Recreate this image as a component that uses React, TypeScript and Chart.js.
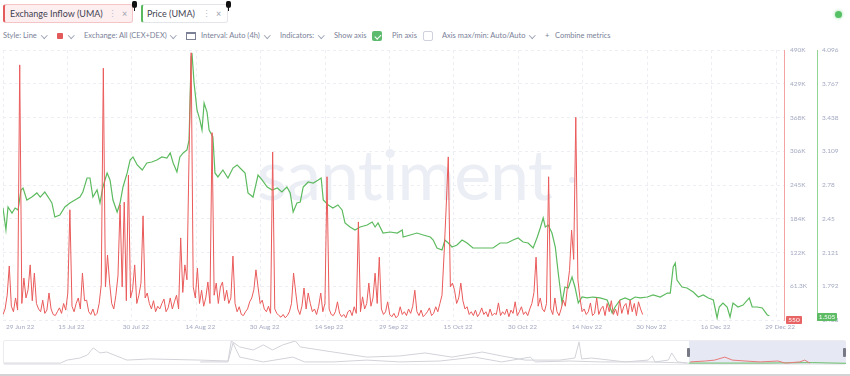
import React, { useEffect, useRef } from "react";
import { Chart, registerables } from "chart.js";
Chart.register(...registerables);

// ---------- DATA ----------
const xTickLabels = ["29 Jun 22", "15 Jul 22", "30 Jul 22", "14 Aug 22", "30 Aug 22", "14 Sep 22", "29 Sep 22", "15 Oct 22", "30 Oct 22", "14 Nov 22", "30 Nov 22", "16 Dec 22", "29 Dec 22"];
const X_TICK_STEP = 15.41; // days between date labels
const X_MAX = 186.8; // visible range in days
const INFLOW_STEP = 0.5; // days between inflow samples

// Exchange inflow (thousands of UMA), one sample every half day from 29 Jun
const inflowK = [
  10, 20, 45, 98, 25, 15, 40, 18, 463, 30,
  76, 40, 55, 100, 35, 85, 30, 20, 15, 36,
  12, 18, 49, 20, 10, 8, 15, 22, 12, 30,
  18, 49, 200, 25, 15, 30, 40, 20, 85, 35,
  36, 15, 10, 20, 8, 12, 30, 64, 457, 60,
  118, 67, 30, 20, 45, 80, 209, 60, 214, 35,
  263, 40, 55, 100, 30, 45, 67, 189, 40, 49,
  30, 20, 35, 15, 25, 20, 30, 38, 15, 22,
  40, 20, 33, 45, 20, 149, 50, 100, 73, 300,
  485, 60, 40, 94, 30, 54, 25, 40, 69, 30,
  340, 45, 67, 30, 60, 69, 35, 54, 30, 40,
  116, 30, 15, 24, 10, 8, 15, 20, 33, 40,
  55, 91, 60, 30, 36, 20, 15, 25, 12, 305,
  20, 12, 8, 5, 10, 4, 8, 15, 30, 85,
  51, 20, 10, 25, 58, 20, 49, 30, 15, 20,
  10, 25, 49, 15, 30, 260, 20, 10, 8, 15,
  33, 12, 6, 10, 4, 15, 18, 8, 24, 12,
  178, 15, 42, 20, 30, 67, 25, 40, 85, 30,
  114, 20, 10, 15, 33, 10, 6, 12, 4, 8,
  24, 10, 15, 8, 20, 12, 25, 54, 15, 8,
  18, 6, 10, 15, 22, 8, 12, 24, 15, 30,
  45, 120, 205, 296, 60, 67, 54, 30, 40, 67,
  35, 20, 24, 10, 15, 8, 18, 6, 12, 22,
  10, 15, 6, 20, 8, 12, 10, 31, 8, 15,
  10, 20, 6, 18, 12, 33, 8, 15, 24, 10,
  15, 8, 20, 30, 50, 114, 25, 40, 20, 15,
  30, 260, 20, 10, 40, 15, 8, 20, 36, 25,
  60, 90, 163, 110, 368, 73, 40, 15, 20, 10,
  15, 31, 8, 12, 40, 10, 20, 25, 8, 30,
  15, 35, 10, 20, 8, 36, 12, 25, 30, 10,
  36, 15, 30, 8, 33, 20, 10,
];

// Price (USD): day offset from 29 Jun and value
const priceDay = [
  0, 0.7, 1.2, 2.15, 2.9, 3.6, 4.3, 4.8, 5.7, 6.9, 8.1, 8.9, 10.0, 10.8, 11.7, 12.4, 13.6, 14.8, 16.0, 17.2,
  18.4, 19.1, 20.1, 20.8, 21.5, 22.5, 23.2, 23.9, 24.9, 25.6, 26.3, 27.3, 28.0, 28.7, 29.7, 30.4, 31.1, 32.1, 33.3, 34.4,
  35.6, 36.8, 38.0, 39.2, 40.0, 40.7, 41.6, 42.3, 43.1, 44.0, 44.5, 45.0, 45.2, 45.7, 46.4, 47.1, 47.6, 48.1, 48.8, 49.3,
  50.2, 50.7, 51.4, 52.6, 53.8, 55.0, 56.0, 56.7, 57.9, 58.6, 59.8, 61.0, 62.0, 63.2, 64.4, 65.6, 66.7, 67.9, 68.7, 69.4,
  70.3, 71.1, 71.8, 73.0, 74.2, 75.4, 76.1, 76.6, 77.8, 78.9, 80.1, 81.1, 81.8, 83.0, 84.2, 85.4, 87.1, 88.3, 89.0, 89.7,
  90.9, 92.6, 94.3, 95.5, 95.7, 97.4, 99.0, 100.5, 102.2, 102.9, 103.8, 105.0, 105.7, 106.5, 107.4, 108.6, 109.8, 111.0, 112.4, 114.1,
  115.8, 117.2, 118.9, 120.6, 122.0, 123.2, 124.4, 125.6, 126.8, 127.8, 128.5, 129.2, 129.7, 130.4, 131.3, 132.1, 132.8, 133.7, 134.4, 135.2,
  136.1, 136.8, 137.6, 138.5, 139.7, 141.1, 142.8, 144.5, 145.7, 146.4, 147.6, 148.8, 150.0, 151.2, 152.4, 154.1, 155.5, 157.2, 158.9, 159.6,
  160.3, 160.8, 161.2, 162.4, 163.6, 165.1, 166.3, 167.5, 168.7, 169.9, 170.8, 171.3, 172.2, 173.2, 173.9, 174.6, 175.8, 177.0, 178.5, 179.2,
  180.4, 181.6, 182.8, 183.3,
];
const price = [
  2.555, 2.341, 2.565, 2.506, 2.555, 2.536, 2.731, 2.750, 2.633, 2.662, 2.702, 2.662, 2.711, 2.662, 2.604, 2.467, 2.487, 2.565, 2.604, 2.633,
  2.662, 2.711, 2.848, 2.848, 2.662, 2.731, 2.604, 2.760, 2.897, 2.828, 2.633, 2.516, 2.604, 2.760, 2.897, 3.023, 3.053, 2.975, 2.926, 2.994,
  3.004, 3.023, 3.053, 3.043, 3.092, 2.994, 2.906, 3.053, 3.092, 3.121, 3.218, 4.028, 4.067, 3.774, 3.511, 3.413, 3.316, 3.579, 3.491, 3.316,
  3.248, 2.897, 2.858, 2.926, 2.848, 2.945, 2.975, 2.945, 2.897, 2.702, 2.662, 2.877, 2.828, 2.760, 2.731, 2.750, 2.711, 2.760, 2.702, 2.516,
  2.604, 2.614, 2.760, 2.809, 2.799, 2.828, 2.848, 2.633, 2.585, 2.555, 2.585, 2.536, 2.409, 2.370, 2.341, 2.370, 2.389, 2.419, 2.370, 2.409,
  2.311, 2.321, 2.311, 2.341, 2.272, 2.292, 2.311, 2.292, 2.272, 2.243, 2.165, 2.146, 2.243, 2.214, 2.175, 2.194, 2.243, 2.214, 2.165, 2.165,
  2.165, 2.165, 2.214, 2.214, 2.243, 2.263, 2.224, 2.214, 2.165, 2.272, 2.360, 2.458, 2.370, 2.389, 2.311, 2.175, 1.921, 1.629, 1.785, 1.775,
  1.882, 1.785, 1.629, 1.687, 1.678, 1.687, 1.678, 1.658, 1.531, 1.590, 1.658, 1.678, 1.658, 1.687, 1.678, 1.687, 1.707, 1.687, 1.726, 1.726,
  1.980, 2.019, 1.853, 1.785, 1.775, 1.736, 1.687, 1.707, 1.678, 1.658, 1.483, 1.590, 1.629, 1.590, 1.492, 1.629, 1.590, 1.609, 1.678, 1.590,
  1.590, 1.580, 1.512, 1.505,
];

const INFLOW_MAX = 490000;
const inflowTickLabels = ["", "61.3K", "122K", "184K", "245K", "306K", "368K", "429K", "490K"];
const PRICE_MIN = 1.463;
const PRICE_MAX = 4.096;
const priceTickLabels = ["1.463", "1.792", "2.121", "2.45", "2.78", "3.109", "3.438", "3.767", "4.096"];
const lastInflowLabel = "550";
const lastPriceLabel = "1.505";

// Navigator (overview of longer history), time 0-100, normalized height 0-100
const navPriceT = [0, 6.7, 7.5, 9.0, 9.9, 10.6, 11.4, 12.2, 14.6, 17.3, 23.3, 26.6, 27.0, 28.0, 29.6, 30.8, 31.9, 33.1, 34.6, 35.2, 39.1, 43.1, 47.0, 50.0, 53.2, 56.8, 59.1, 61.9, 66.0, 67.8, 68.3, 68.6, 69.8, 73.8, 76.5, 77.0, 77.3, 78.9, 79.3, 80.0, 81.2];
const navPriceV = [4, 4, 17, 26, 39, 70, 48, 52, 17, 22, 17, 13, 100, 74, 61, 83, 61, 83, 100, 74, 52, 30, 35, 48, 30, 52, 35, 17, 17, 26, 96, 22, 26, 9, 17, 35, 9, 17, 48, 9, 4];
const navInflowT = [23.3, 26.6, 27.2, 28.0, 30.8, 34.3, 35.7, 39.1, 43.1, 47.0, 51.8, 55.9, 57.1, 59.1, 62.5, 63.1, 67.2, 70.8, 76.7, 81.2];
const navInflowV = [9, 9, 91, 30, 9, 30, 9, 9, 17, 9, 13, 30, 22, 9, 30, 9, 13, 9, 9, 4];
const navSelInflowT = [81.5, 83.3, 84.4, 85.6, 86.5, 88.0, 89.8, 91.9, 92.8, 94.5, 95.1, 95.7];
const navSelInflowV = [9, 13, 17, 30, 17, 13, 9, 13, 4, 9, 17, 4];
const navSelPriceT = [81.3, 90.0, 96.0, 100];
const navSelPriceV = [4, 4, 6, 3];

// ---------- STYLE ----------
const RED = "#ea5a5a";
const GREEN = "#5dbb5f";
const AXIS_TEXT = "#a4a9c1";
const FONT = "Lato, 'Noto Sans', sans-serif";

const xLabelPlugin = {
  id: "xLabels",
  afterDraw(chart: any) {
    const { ctx, chartArea } = chart;
    const x = chart.scales.x;
    ctx.save();
    ctx.font = `6.5px ${FONT}`;
    ctx.fillStyle = AXIS_TEXT;
    ctx.textBaseline = "middle";
    xTickLabels.forEach((lab, k) => {
      const px = x.getPixelForValue(k * X_TICK_STEP);
      ctx.textAlign = k === 0 ? "left" : "center";
      ctx.fillText(lab, k === 0 ? px + 3 : px + 4, chartArea.bottom + 7);
    });
    ctx.restore();
  },
};

const Chevron = ({ left }: { left: number }) => (
  <div style={{ position: "absolute", left, top: 33, width: 3.5, height: 3.5, borderRight: "1px solid #a0a6b8", borderBottom: "1px solid #a0a6b8", transform: "rotate(45deg)" }} />
);

const ToolText = ({ left, children, color }: any) => (
  <div style={{ position: "absolute", left, top: 31, fontSize: 7.5, lineHeight: "10px", color: color || "#7a8198", whiteSpace: "nowrap" }}>{children}</div>
);

const Pin = ({ left }: { left: number }) => (
  <div style={{ position: "absolute", left, top: 1 }}>
    <div style={{ width: 5, height: 7, background: "#111", borderRadius: "2px 2px 3px 3px" }} />
    <div style={{ width: 1, height: 3, background: "#111", marginLeft: 2 }} />
  </div>
);

export default function App() {
  const mainRef = useRef<HTMLCanvasElement>(null);
  const navRef = useRef<HTMLCanvasElement>(null);

  useEffect(() => {
    const inflowData = inflowK.map((v, i) => ({ x: i * INFLOW_STEP, y: v * 1000 }));
    const priceData = priceDay.map((d, i) => ({ x: d, y: price[i] }));

    const main = new Chart(mainRef.current!, {
      type: "line",
      data: {
        datasets: [
          { data: inflowData, borderColor: RED, borderWidth: 1, pointRadius: 0, yAxisID: "y", tension: 0 },
          { data: priceData, borderColor: GREEN, borderWidth: 1.2, pointRadius: 0, yAxisID: "y1", tension: 0 },
        ],
      },
      options: {
        animation: false,
        responsive: false,
        events: [],
        layout: { padding: { left: 3, top: 50, right: 0, bottom: 56 } },
        plugins: { legend: { display: false }, tooltip: { enabled: false } },
        scales: {
          x: {
            type: "linear",
            min: 0,
            max: X_MAX,
            afterBuildTicks: (s: any) => {
              s.ticks = xTickLabels.map((_, k) => ({ value: k * X_TICK_STEP }));
            },
            afterFit: (s: any) => { s.height = 0; },
            ticks: { display: false },
            grid: { color: "#eceef3", drawTicks: false },
            border: { display: false, dash: [3, 3] },
          },
          y: {
            position: "right",
            weight: 0,
            min: 0,
            max: INFLOW_MAX,
            afterBuildTicks: (s: any) => {
              s.ticks = inflowTickLabels.map((_, i) => ({ value: (i * INFLOW_MAX) / (inflowTickLabels.length - 1) }));
            },
            afterFit: (s: any) => { s.width = 33; },
            ticks: {
              padding: 6,
              color: AXIS_TEXT,
              font: { size: 6.5, family: FONT },
              callback: (_v: any, i: number) => inflowTickLabels[i],
            },
            grid: { color: "#eceef3", drawTicks: false },
            border: { display: true, color: "#f3a3a3", width: 1, dash: [3, 3] },
          },
          y1: {
            position: "right",
            weight: 1,
            min: PRICE_MIN,
            max: PRICE_MAX,
            afterBuildTicks: (s: any) => {
              s.ticks = priceTickLabels.map((_, i) => ({ value: PRICE_MIN + (i * (PRICE_MAX - PRICE_MIN)) / (priceTickLabels.length - 1) }));
            },
            afterFit: (s: any) => { s.width = 33; },
            ticks: {
              padding: 5,
              color: AXIS_TEXT,
              font: { size: 6.5, family: FONT },
              callback: (_v: any, i: number) => priceTickLabels[i],
            },
            grid: { display: true, drawOnChartArea: false, drawTicks: false },
            border: { display: true, color: "#94d494", width: 1 },
          },
        },
      },
      plugins: [xLabelPlugin],
    } as any);

    const pts = (t: number[], v: number[]) => t.map((x, i) => ({ x, y: v[i] }));
    const nav = new Chart(navRef.current!, {
      type: "line",
      data: {
        datasets: [
          { data: pts(navSelInflowT, navSelInflowV), borderColor: "#e77a7a", borderWidth: 1, pointRadius: 0 },
          { data: pts(navSelPriceT, navSelPriceV), borderColor: "#69c069", borderWidth: 1, pointRadius: 0 },
          { data: pts(navPriceT, navPriceV), borderColor: "#d2d3d9", borderWidth: 1, pointRadius: 0 },
          { data: pts(navInflowT, navInflowV), borderColor: "#d2d3d9", borderWidth: 1, pointRadius: 0 },
        ],
      },
      options: {
        animation: false,
        responsive: false,
        events: [],
        layout: { padding: 0 },
        plugins: { legend: { display: false }, tooltip: { enabled: false } },
        scales: {
          x: { type: "linear", min: 0, max: 100, display: false },
          y: { min: 0, max: 100, display: false },
        },
      },
    } as any);

    return () => {
      main.destroy();
      nav.destroy();
    };
  }, []);

  return (
    <div style={{ position: "fixed", left: 0, top: 0, width: 850, height: 376, background: "#fff", overflow: "hidden", fontFamily: FONT }}>
      {/* header tabs */}
      <div style={{ position: "absolute", left: 3, top: 4, width: 130, height: 19, background: "#fdeff0", border: "1px solid #f4c4c6", borderLeft: "2px solid #e35b5b", borderRadius: 3, boxSizing: "border-box" }} />
      <div style={{ position: "absolute", left: 10, top: 8, fontSize: 9, lineHeight: "12px", color: "#3f4250", whiteSpace: "nowrap" }}>Exchange Inflow (UMA)</div>
      <div style={{ position: "absolute", left: 108, top: 8, fontSize: 9, lineHeight: "12px", color: "#b8bcc8" }}>⋮</div>
      <div style={{ position: "absolute", left: 122, top: 8, fontSize: 9, lineHeight: "12px", color: "#9a9ead" }}>×</div>
      <Pin left={132} />
      <div style={{ position: "absolute", left: 141, top: 4, width: 87, height: 19, background: "#fff", border: "1px solid #e4e5ea", borderLeft: "2px solid #58b95c", borderRadius: 3, boxSizing: "border-box" }} />
      <div style={{ position: "absolute", left: 147, top: 8, fontSize: 9, lineHeight: "12px", color: "#3f4250", whiteSpace: "nowrap" }}>Price (UMA)</div>
      <div style={{ position: "absolute", left: 202, top: 8, fontSize: 9, lineHeight: "12px", color: "#b8bcc8" }}>⋮</div>
      <div style={{ position: "absolute", left: 216, top: 8, fontSize: 9, lineHeight: "12px", color: "#9a9ead" }}>×</div>
      <Pin left={226} />
      <div style={{ position: "absolute", left: 835, top: 11, width: 7, height: 7, borderRadius: "50%", background: "#55c064", boxShadow: "0 0 3px 1px #c8ecce" }} />

      {/* toolbar */}
      <ToolText left={3}>Style: Line</ToolText>
      <Chevron left={42} />
      <div style={{ position: "absolute", left: 57, top: 33, width: 6, height: 6, background: "#e25a5a", borderRadius: 1 }} />
      <Chevron left={69} />
      <ToolText left={84}>Exchange: All (CEX+DEX)</ToolText>
      <Chevron left={171} />
      <div style={{ position: "absolute", left: 186, top: 32, width: 10, height: 8, border: "1px solid #7c8196", borderTopWidth: 2, boxSizing: "border-box" }} />
      <ToolText left={201}>Interval: Auto (4h)</ToolText>
      <Chevron left={265} />
      <ToolText left={280}>Indicators:</ToolText>
      <Chevron left={319} />
      <ToolText left={334}>Show axis</ToolText>
      <div style={{ position: "absolute", left: 372, top: 31, width: 10, height: 10, background: "#5dbb70", borderRadius: 2 }}>
        <div style={{ position: "absolute", left: 3.5, top: 1.5, width: 2.5, height: 5, borderRight: "1.2px solid #fff", borderBottom: "1.2px solid #fff", transform: "rotate(45deg)" }} />
      </div>
      <ToolText left={392}>Pin axis</ToolText>
      <div style={{ position: "absolute", left: 423, top: 31, width: 10, height: 10, border: "1px solid #cfd2dc", borderRadius: 2, boxSizing: "border-box" }} />
      <ToolText left={442}>Axis max/min: Auto/Auto</ToolText>
      <Chevron left={530} />
      <ToolText left={545}>+</ToolText>
      <ToolText left={555}>Combine metrics</ToolText>

      {/* watermark */}
      <div style={{ position: "absolute", left: 257, top: 138, fontSize: 70, lineHeight: "70px", color: "#eceef5", whiteSpace: "nowrap", letterSpacing: -1 }}>santiment</div>
      <div style={{ position: "absolute", left: 569, top: 177, width: 6, height: 6, borderRadius: "50%", background: "#eceef5" }} />

      {/* main chart */}
      <canvas ref={mainRef} width={850} height={376} style={{ position: "absolute", left: 0, top: 0, width: 850, height: 376 }} />

      {/* last value badges */}
      <div style={{ position: "absolute", left: 786, top: 316, width: 16, height: 8, background: "#e86464", color: "#fff", fontSize: 6.5, lineHeight: "8px", textAlign: "center", borderRadius: 1 }}>{lastInflowLabel}</div>
      <div style={{ position: "absolute", left: 817, top: 313, width: 20, height: 8, background: "#5dbb63", color: "#fff", fontSize: 6.5, lineHeight: "8px", textAlign: "center", borderRadius: 1 }}>{lastPriceLabel}</div>

      {/* navigator */}
      <div style={{ position: "absolute", left: 3, top: 340, width: 843, height: 25, border: "1px solid #ececf0", borderRadius: 2, boxSizing: "border-box" }} />
      <div style={{ position: "absolute", left: 689, top: 341, width: 157, height: 23, background: "#e6e8f3" }} />
      <canvas ref={navRef} width={842} height={23} style={{ position: "absolute", left: 4, top: 341, width: 842, height: 23 }} />
      <div style={{ position: "absolute", left: 687, top: 348, width: 3, height: 9, background: "#777a85", borderRadius: 1 }} />
      <div style={{ position: "absolute", left: 843, top: 348, width: 3, height: 9, background: "#777a85", borderRadius: 1 }} />
      <div style={{ position: "absolute", left: 0, top: 374, width: 850, height: 2, background: "#d3d3d6" }} />
    </div>
  );
}
